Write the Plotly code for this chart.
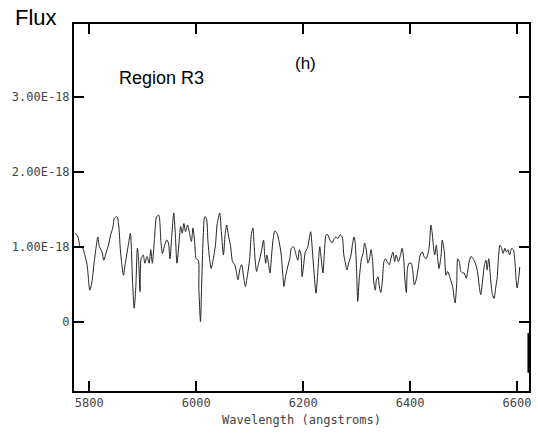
import plotly.graph_objects as go

# Spectrum (wavelength in angstroms, flux in units of 1e-18)
wavelength = [
    5774, 5779, 5783, 5788, 5791, 5796, 5801, 5805, 5809, 5813, 5816, 5819, 5824, 5827, 5832, 5836,
    5840, 5844, 5847, 5852, 5855, 5858, 5861, 5864, 5867, 5870, 5873, 5877, 5879, 5881, 5884, 5887,
    5890, 5892, 5895, 5897, 5901, 5904, 5908, 5912, 5915, 5918, 5922, 5926, 5930, 5934, 5937,
    5941, 5945, 5948, 5951, 5954, 5958, 5961, 5964, 5967, 5971, 5974, 5977, 5980, 5984, 5988, 5991,
    5994, 5997, 6000, 6004, 6005, 6008, 6010, 6013, 6016, 6019, 6022, 6025, 6028, 6032, 6036, 6039,
    6044, 6047, 6051, 6054, 6057, 6060, 6064, 6068, 6072, 6075, 6078, 6082, 6085, 6089, 6092, 6095,
    6100, 6103, 6106,
    6108, 6110, 6113, 6116, 6119, 6123, 6126, 6128, 6130, 6132, 6135, 6138, 6141, 6144, 6147, 6151,
    6155, 6159, 6162, 6164, 6167, 6171, 6175, 6178, 6182, 6186, 6190, 6193, 6196, 6198, 6201, 6204,
    6208, 6211, 6214, 6217, 6220, 6224, 6227, 6231, 6233, 6237, 6240, 6243, 6246, 6250, 6254, 6258,
    6261, 6265, 6269, 6273,
    6276, 6279, 6282, 6285, 6289, 6292, 6295, 6297, 6300, 6302, 6305, 6309, 6312, 6315, 6318, 6321,
    6324, 6327, 6330, 6332, 6335, 6337, 6340, 6342, 6345, 6348, 6351, 6354, 6357, 6361, 6364, 6368,
    6371, 6374, 6378, 6382, 6385, 6388, 6390, 6393, 6395, 6398, 6402, 6405, 6408, 6412, 6415, 6419,
    6423, 6426, 6430, 6434, 6436, 6439,
    6441, 6444, 6446, 6449, 6451, 6454, 6458, 6460, 6464, 6467, 6470, 6473, 6477, 6480, 6482, 6484,
    6487, 6489, 6492, 6495, 6498, 6501, 6505, 6508, 6511, 6514, 6518, 6522, 6526, 6529, 6532, 6536,
    6539, 6542, 6544, 6547, 6551, 6554, 6557, 6560, 6563, 6565, 6568, 6571, 6574, 6577, 6580, 6583,
    6586, 6590, 6593, 6596, 6598, 6600, 6603, 6605,
]
flux_e18 = [
    1.18, 1.13, 1.00, 0.98, 0.91, 0.76, 0.42, 0.53, 0.78, 1.00, 1.13, 1.00, 0.93, 0.82, 0.93, 1.02,
    1.16, 1.25, 1.38, 1.40, 1.29, 0.98, 0.76, 0.62, 0.76, 0.89, 1.02, 1.18, 0.93, 0.53, 0.18, 0.45,
    0.98, 0.87, 0.40, 0.84, 0.89, 0.78, 0.87, 0.78, 0.96, 0.78, 1.11, 1.40, 1.42, 1.07, 0.91,
    1.02, 1.09, 1.05, 0.84, 1.11, 1.45, 1.16, 0.78, 0.98, 1.27, 1.18, 1.31, 1.20, 1.29, 1.16, 1.07,
    1.25, 1.07, 0.84, 0.82, 0.45, 0.00, 0.45, 1.11, 1.40, 1.38, 1.07, 0.84, 0.71, 0.84, 1.02, 1.29,
    1.45, 1.20, 0.89, 1.16, 1.29, 1.16, 1.02, 0.80, 0.76, 0.67, 0.56, 0.71, 0.76, 0.58, 0.47, 0.58,
    0.84, 1.16, 1.25,
    1.07, 0.84, 0.67, 0.76, 0.84, 0.98, 1.09, 0.89, 0.78, 0.89, 0.78, 0.65, 0.89, 1.11, 1.21, 1.18,
    1.07, 0.89, 0.62, 0.47, 0.60, 0.73, 0.84, 0.98, 1.00, 0.91, 0.82, 0.96, 0.89, 0.60, 0.76, 0.93,
    0.98, 1.09, 1.20, 0.98, 0.69, 0.38, 0.62, 1.00, 0.89, 0.65, 0.96, 1.16, 1.16, 1.09, 1.05, 1.11,
    1.13, 1.11, 1.16, 1.13,
    0.89, 0.78, 0.69, 0.78, 0.87, 1.02, 1.13, 1.07, 0.67, 0.27, 0.58, 0.84, 0.91, 1.05, 0.96, 0.78,
    0.84, 0.96, 0.80, 0.53, 0.42, 0.56, 0.60, 0.49, 0.39, 0.53, 0.80, 0.84, 0.80, 0.76, 0.84, 0.93,
    0.80, 0.89, 0.80, 0.89, 0.98, 0.84, 0.58, 0.39, 0.71, 0.78, 0.78, 0.67, 0.49, 0.58, 0.71, 0.89,
    0.93, 0.87, 0.84, 0.93, 1.02, 1.29,
    1.20, 0.98, 0.89, 1.02, 0.89, 0.71, 0.89, 1.09, 0.93, 0.62, 0.67, 0.62, 0.53, 0.45, 0.33, 0.25,
    0.49, 0.84, 0.80, 0.67, 0.65, 0.65, 0.58, 0.69, 0.82, 0.87, 0.84, 0.78, 0.67, 0.49, 0.36, 0.58,
    0.76, 0.82, 0.69, 0.84, 0.53, 0.36, 0.31, 0.45, 0.60, 0.84, 1.02, 0.98, 0.91, 0.98, 0.93, 0.96,
    0.89, 0.98, 0.96, 0.80, 0.58, 0.45, 0.58, 0.73,
]
# short vertical segment at the right edge
tail_wavelength = [6621.3, 6621.3]
tail_flux_e18 = [-0.15, -0.68]

x_tickvals = [5800, 6000, 6200, 6400, 6600]
x_ticktext = ["5800", "6000", "6200", "6400", "6600"]
y_tickvals_e18 = [0, 1, 2, 3]
y_ticktext = ["0", "1.00E-18", "2.00E-18", "3.00E-18"]

SCALE = 1e-18
flux = [v * SCALE for v in flux_e18]
tail_flux = [v * SCALE for v in tail_flux_e18]
y_tickvals = [v * SCALE for v in y_tickvals_e18]

W, H = 538, 442
L, R, T, B = 74, 7, 24, 51
pw, ph = W - L - R, H - T - B

fig = go.Figure()
fig.add_trace(go.Scatter(x=wavelength, y=flux, mode="lines",
                         line=dict(color="#222222", width=1, shape="spline", smoothing=0.7),
                         hoverinfo="skip"))
fig.add_trace(go.Scatter(x=tail_wavelength, y=tail_flux, mode="lines",
                         line=dict(color="#000000", width=2), hoverinfo="skip"))

tickfont = dict(family="DejaVu Sans Mono", size=12, color="#444444")

fig.update_layout(
    width=W, height=H,
    margin=dict(l=L, r=R, t=T, b=B, pad=0),
    paper_bgcolor="white", plot_bgcolor="white",
    showlegend=False,
    xaxis=dict(range=[5771.5, 6622.3], tickvals=x_tickvals, ticktext=x_ticktext,
               ticks="inside", ticklen=10, tickwidth=2, tickcolor="black",
               showline=True, linewidth=2, linecolor="black", mirror="allticks",
               showgrid=False, zeroline=False, tickfont=tickfont,
               title=dict(text="Wavelength (angstroms)", font=tickfont, standoff=6)),
    yaxis=dict(range=[-0.924e-18, 3.97e-18], tickvals=y_tickvals, ticktext=y_ticktext,
               ticks="inside", ticklen=10, tickwidth=2, tickcolor="black",
               showline=True, linewidth=2, linecolor="black", mirror="allticks",
               showgrid=False, zeroline=False, tickfont=tickfont),
)

def px(x):
    return (x - L) / pw

def py(y):
    return (H - B - y) / ph

fig.add_annotation(text="Flux", xref="paper", yref="paper", x=px(36), y=py(17),
                   xanchor="center", yanchor="middle", showarrow=False,
                   font=dict(family="Liberation Sans", size=22, color="black"))
fig.add_annotation(text="Region R3", xref="paper", yref="paper", x=px(161.7), y=py(78),
                   xanchor="center", yanchor="middle", showarrow=False,
                   font=dict(family="Liberation Sans", size=18, color="black"))
fig.add_annotation(text="(h)", xref="paper", yref="paper", x=px(306.7), y=py(63),
                   xanchor="center", yanchor="middle", showarrow=False,
                   font=dict(family="Liberation Sans", size=17, color="black"))

fig.write_html("out.html")
